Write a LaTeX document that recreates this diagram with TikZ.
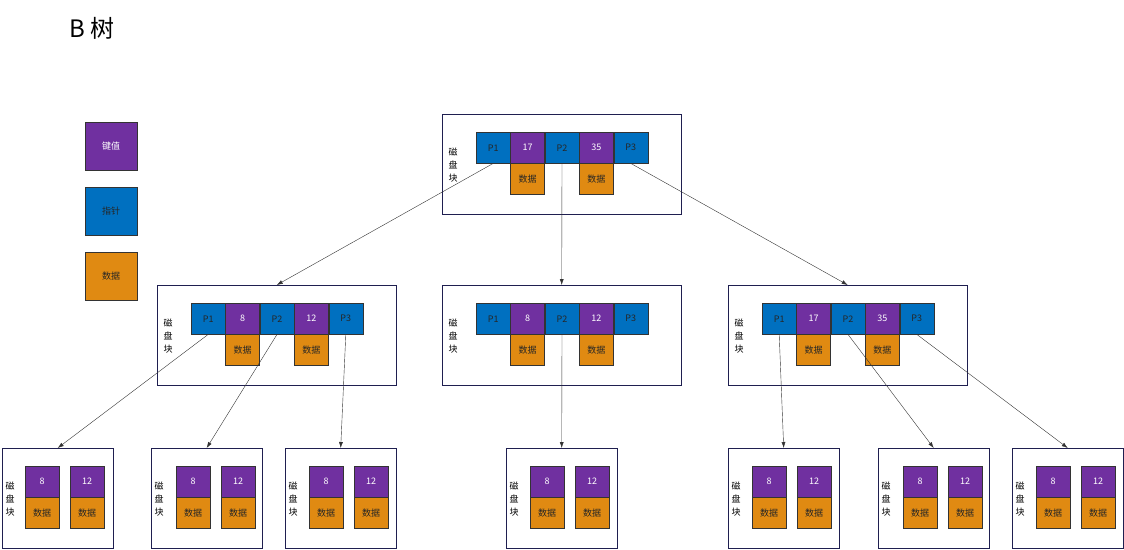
\documentclass[tikz,border=0pt]{standalone}
\usepackage{fontspec}
\setmainfont{Noto Sans CJK SC}
\usetikzlibrary{arrows.meta,positioning}
\definecolor{keyc}{HTML}{7030A0}
\definecolor{ptrc}{HTML}{0070C0}
\definecolor{datc}{HTML}{E08A12}
\definecolor{boxc}{HTML}{1F1F50}
\tikzset{
  cell/.style={draw=black!80, minimum width=34pt, minimum height=31pt, inner sep=0pt, font=\fontsize{9}{11}\selectfont},
  ptr/.style={cell, fill=ptrc, text=black!85},
  key/.style={cell, fill=keyc, text=white},
  dat/.style={cell, fill=datc, text=black!85},
  block/.style={draw=boxc, minimum width=#1, minimum height=100pt, inner sep=0pt},
  tag/.style={font=\fontsize{9}{11}\selectfont, align=center},
  line/.style={draw=black!80, -{Latex[length=6pt,width=4pt]}}
}
% inner node: name, left x of box, left x of cells, top y, key1, key2
\newcommand{\inner}[6]{
  \node[block=239pt, anchor=north west] (#1) at (#2,#4) {};
  \node[tag, anchor=west] (#1-t) at ($(#2,#4)+(3,51)$) {磁\\[2pt]盘\\[2pt]块};
  \node[ptr, anchor=north west] (#1-p1) at (#3,#4+18) {P1};
  \node[key, right=0pt of #1-p1] (#1-k1) {#5};
  \node[ptr, right=0pt of #1-k1] (#1-p2) {P2};
  \node[key, right=0pt of #1-p2] (#1-k2) {#6};
  \node[ptr, right=0pt of #1-k2] (#1-p3) {P3};
  \node[dat, below=0pt of #1-k1] (#1-d1) {数据};
  \node[dat, below=0pt of #1-k2] (#1-d2) {数据};
}
% leaf node: name, left x of box, left x of cells
\newcommand{\leaf}[3]{
  \node[block=111pt, anchor=north west] (#1) at (#2,448) {};
  \node[tag, anchor=west] (#1-t) at (#2+0,499) {磁\\[2pt]盘\\[2pt]块};
  \node[key, anchor=north west] (#1-k1) at (#3,466) {8};
  \node[key, anchor=north west] (#1-k2) at (#3+45,466) {12};
  \node[dat, below=0pt of #1-k1] (#1-d1) {数据};
  \node[dat, below=0pt of #1-k2] (#1-d2) {数据};
}
\usetikzlibrary{calc}
\begin{document}
\begin{tikzpicture}[x=1pt, y=-1pt]
\useasboundingbox (0,0) rectangle (1124,549);
\node[anchor=west, font=\fontsize{24}{28}\selectfont] (title) at (66,28) {B 树};

% legend
\node[key, minimum width=52pt, minimum height=48pt] (lkey) at (111,146) {键值};
\node[ptr, minimum width=52pt, minimum height=48pt] (lptr) at (111,211) {指针};
\node[dat, minimum width=52pt, minimum height=48pt] (ldat) at (111,276) {数据};

% blocks
\inner{root}{442}{476}{114}{17}{35}
\inner{m1}{157}{191}{285}{8}{12}
\inner{m2}{442}{476}{285}{8}{12}
\inner{m3}{728}{762}{285}{17}{35}
\leaf{l1}{2}{25}
\leaf{l2}{151}{176}
\leaf{l3}{285}{309}
\leaf{l4}{506}{530}
\leaf{l5}{728}{752}
\leaf{l6}{878}{903}
\leaf{l7}{1012}{1036}

% edges
\path[line] (root-p1.south) -- (m1.north);
\path[line] (root-p2.south) -- (m2.north);
\path[line] (root-p3.south) -- (m3.north);
\path[line] (m1-p1.south) -- (l1.north);
\path[line] (m1-p2.south) -- (l2.north);
\path[line] (m1-p3.south) -- (l3.north);
\path[line] (m2-p2.south) -- (l4.north);
\path[line] (m3-p1.south) -- (l5.north);
\path[line] (m3-p2.south) -- (l6.north);
\path[line] (m3-p3.south) -- (l7.north);
\end{tikzpicture}
\end{document}
